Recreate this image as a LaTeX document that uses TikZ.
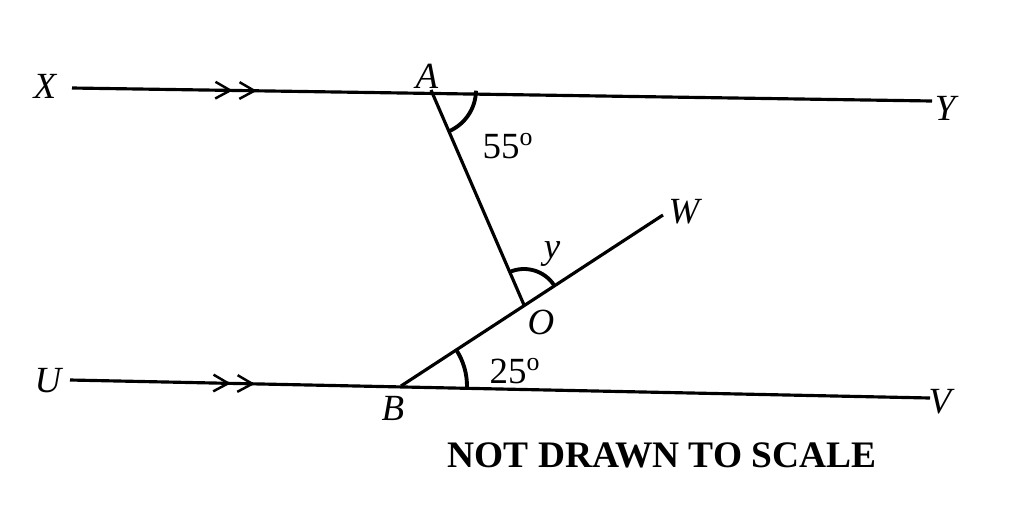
\documentclass[tikz,border=0pt]{standalone}
\usepackage{fontspec}
\setmainfont{Liberation Serif}
\usetikzlibrary{arrows.meta, positioning, calc, decorations.markings}

\begin{document}
\begin{tikzpicture}[
    x=0.02cm, y=-0.02cm,
    lbl/.style={font=\fontsize{21}{24}\selectfont\itshape, inner sep=0pt},
    seg/.style={line width=1.8pt},
    ang/.style={line width=2.2pt},
    parl/.style={postaction={decorate, decoration={markings,
        mark=at position 0.187 with {\arrow{Straight Barb[length=8.5pt, width=9.5pt, line width=1.4pt]}},
        mark=at position 0.215 with {\arrow{Straight Barb[length=8.5pt, width=9.5pt, line width=1.4pt]}}}}}
]
    \useasboundingbox (0,0) rectangle (1024,508);

    % points
    \coordinate (X) at (72,88);
    \coordinate (Y) at (932,101);
    \coordinate (U) at (70,380);
    \coordinate (V) at (930,398);
    \coordinate (A) at (431,90);
    \coordinate (B) at (401,386);
    \coordinate (O) at (524,305);
    \coordinate (W) at (663,215);

    % lines
    \draw[seg, parl] (X) -- (Y);
    \draw[seg, parl] (U) -- (V);
    \draw[seg] (A) -- (O);
    \draw[seg] (B) -- (W);

    % angle marks
    \draw[ang] ($(A)+(0.9:45)$) arc[start angle=0.9, end angle=66.6, radius=45];
    \draw[ang] ($(O)+(-113.4:36)$) arc[start angle=-113.4, end angle=-33.1, radius=36];
    \draw[ang] ($(B)+(-33.1:66)$) arc[start angle=-33.1, end angle=1.2, radius=66];

    % labels
    \node[lbl] (lX) at (45,86) {X};
    \node[lbl] (lY) at (945,108) {Y};
    \node[lbl] (lU) at (48,381) {U};
    \node[lbl] (lV) at (940,402) {V};
    \node[lbl] (lW) at (684,212) {W};
    \node[lbl] (lA) at (427,76) {A};
    \node[lbl] (lB) at (393,408) {B};
    \node[lbl] (lO) at (541,322) {O};
    \node[lbl] (ly) at (552,254) {y};
    \node[lbl, font=\fontsize{21}{24}\selectfont] (a55) at (508,146) {55\textsuperscript{o}};
    \node[lbl, font=\fontsize{21}{24}\selectfont] (a25) at (515,371) {25\textsuperscript{o}};

    \node[font=\fontsize{21.3}{24}\selectfont\bfseries, inner sep=0pt] (note) at (662,455) {NOT DRAWN TO SCALE};
\end{tikzpicture}
\end{document}
